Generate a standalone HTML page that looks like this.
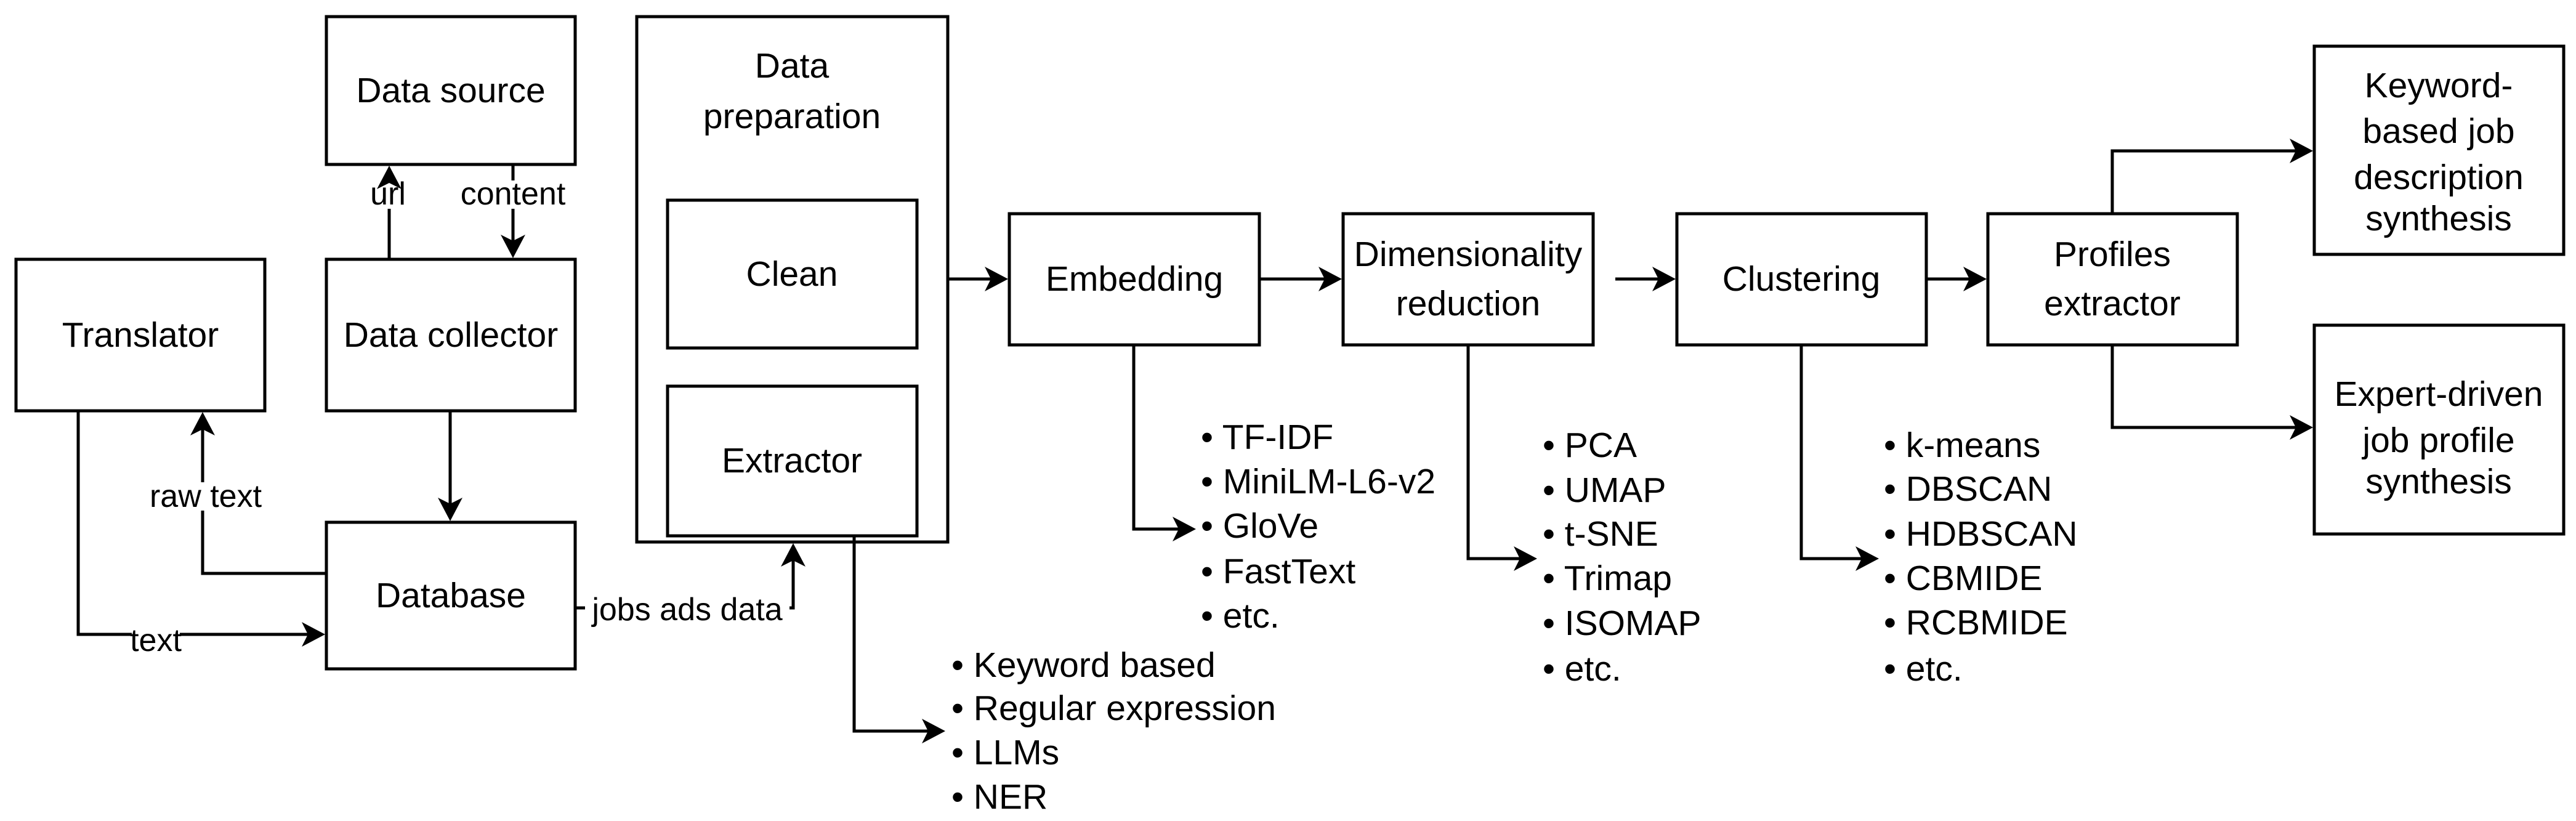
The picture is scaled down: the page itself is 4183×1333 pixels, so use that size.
<!DOCTYPE html>
<html><head><meta charset="utf-8"><style>html,body{margin:0;padding:0;background:#fff;overflow:hidden}svg{display:block}</style></head>
<body>
<svg width="4183" height="1333" viewBox="0 0 4183 1333" xmlns="http://www.w3.org/2000/svg" font-family="Liberation Sans, Arial, sans-serif" font-size="57" fill="#000">
<g fill="none" stroke="#000" stroke-width="5">
<rect x="530" y="27" width="404" height="240"/>
<rect x="26" y="421" width="404" height="246"/>
<rect x="530" y="421" width="404" height="246"/>
<rect x="530" y="848" width="404" height="238"/>
<rect x="1034" y="27" width="505" height="853"/>
<rect x="1084" y="325" width="405" height="240"/>
<rect x="1084" y="627" width="405" height="243"/>
<rect x="1639" y="347" width="406" height="213"/>
<rect x="2181" y="347" width="406" height="213"/>
<rect x="2723" y="347" width="405" height="213"/>
<rect x="3228" y="347" width="405" height="213"/>
<rect x="3758" y="75" width="405" height="338"/>
<rect x="3758" y="528" width="405" height="339"/>
<polyline points="632,421 632,285"/>
<polyline points="833,267 833,401"/>
<polyline points="731,667 731,828"/>
<polyline points="530,931 329,931 329,687"/>
<polyline points="127,667 127,1030 510,1030"/>
<polyline points="934,987 1288,987 1288,900"/>
<polyline points="1387,870 1387,1187 1515,1187"/>
<polyline points="1539,453 1619,453"/>
<polyline points="2045,453 2161,453"/>
<polyline points="2623,453 2703,453"/>
<polyline points="3128,453 3208,453"/>
<polyline points="1841,560 1841,859 1922,859"/>
<polyline points="2384,560 2384,907 2476,907"/>
<polyline points="2925,560 2925,907 3031,907"/>
<polyline points="3430,347 3430,245 3738,245"/>
<polyline points="3430,560 3430,694 3738,694"/>
</g>
<g fill="#fff">
<rect x="605" y="293" width="54" height="46"/>
<rect x="745" y="293" width="176" height="46"/>
<rect x="240" y="783" width="188" height="46"/>
<rect x="214" y="1020" width="78" height="40"/>
<rect x="950" y="966" width="332" height="44"/>
</g>
<g fill="#000" stroke="none">
<path d="M632,269 L612,307 L632,297 L652,307 Z"/>
<path d="M833,419 L813,381 L833,391 L853,381 Z"/>
<path d="M731,846 L711,808 L731,818 L751,808 Z"/>
<path d="M329,669 L309,707 L329,697 L349,707 Z"/>
<path d="M528,1030 L490,1010 L500,1030 L490,1050 Z"/>
<path d="M1288,882 L1268,920 L1288,910 L1308,920 Z"/>
<path d="M1535,1187 L1497,1167 L1507,1187 L1497,1207 Z"/>
<path d="M1637,453 L1599,433 L1609,453 L1599,473 Z"/>
<path d="M2179,453 L2141,433 L2151,453 L2141,473 Z"/>
<path d="M2721,453 L2683,433 L2693,453 L2683,473 Z"/>
<path d="M3226,453 L3188,433 L3198,453 L3188,473 Z"/>
<path d="M1942,859 L1904,839 L1914,859 L1904,879 Z"/>
<path d="M2496,907 L2458,887 L2468,907 L2458,927 Z"/>
<path d="M3051,907 L3013,887 L3023,907 L3013,927 Z"/>
<path d="M3756,245 L3718,225 L3728,245 L3718,265 Z"/>
<path d="M3756,694 L3718,674 L3728,694 L3718,714 Z"/>
</g>
<g text-anchor="middle" dominant-baseline="central">
<text x="732" y="147">Data source</text>
<text x="228" y="544">Translator</text>
<text x="732" y="544">Data collector</text>
<text x="732" y="967">Database</text>
<text x="1286" y="107">Data</text>
<text x="1286" y="189">preparation</text>
<text x="1286" y="445">Clean</text>
<text x="1286" y="748">Extractor</text>
<text x="1842" y="453">Embedding</text>
<text x="2384" y="413">Dimensionality</text>
<text x="2384" y="493">reduction</text>
<text x="2925" y="453">Clustering</text>
<text x="3430" y="413">Profiles</text>
<text x="3430" y="493">extractor</text>
<text x="3960" y="139">Keyword-</text>
<text x="3960" y="213">based job</text>
<text x="3960" y="288">description</text>
<text x="3960" y="355">synthesis</text>
<text x="3960" y="640">Expert-driven</text>
<text x="3960" y="715">job profile</text>
<text x="3960" y="782">synthesis</text>
<text x="630" y="315" font-size="52">url</text>
<text x="833" y="315" font-size="52">content</text>
<text x="334" y="806" font-size="52">raw text</text>
<text x="253" y="1040" font-size="52">text</text>
<text x="1116" y="990" font-size="52">jobs ads data</text>
</g>
<g dominant-baseline="central">
<text x="1545" y="1080">• Keyword based</text>
<text x="1545" y="1150">• Regular expression</text>
<text x="1545" y="1222">• LLMs</text>
<text x="1545" y="1294">• NER</text>
<text x="1950" y="710">• TF-IDF</text>
<text x="1950" y="782">• MiniLM-L6-v2</text>
<text x="1950" y="854">• GloVe</text>
<text x="1950" y="928">• FastText</text>
<text x="1950" y="1000">• etc.</text>
<text x="2505" y="723">• PCA</text>
<text x="2505" y="796">• UMAP</text>
<text x="2505" y="867">• t-SNE</text>
<text x="2505" y="939">• Trimap</text>
<text x="2505" y="1012">• ISOMAP</text>
<text x="2505" y="1086">• etc.</text>
<text x="3059" y="723">• k-means</text>
<text x="3059" y="794">• DBSCAN</text>
<text x="3059" y="867">• HDBSCAN</text>
<text x="3059" y="939">• CBMIDE</text>
<text x="3059" y="1011">• RCBMIDE</text>
<text x="3059" y="1086">• etc.</text>
</g>
</svg>
</body></html>
